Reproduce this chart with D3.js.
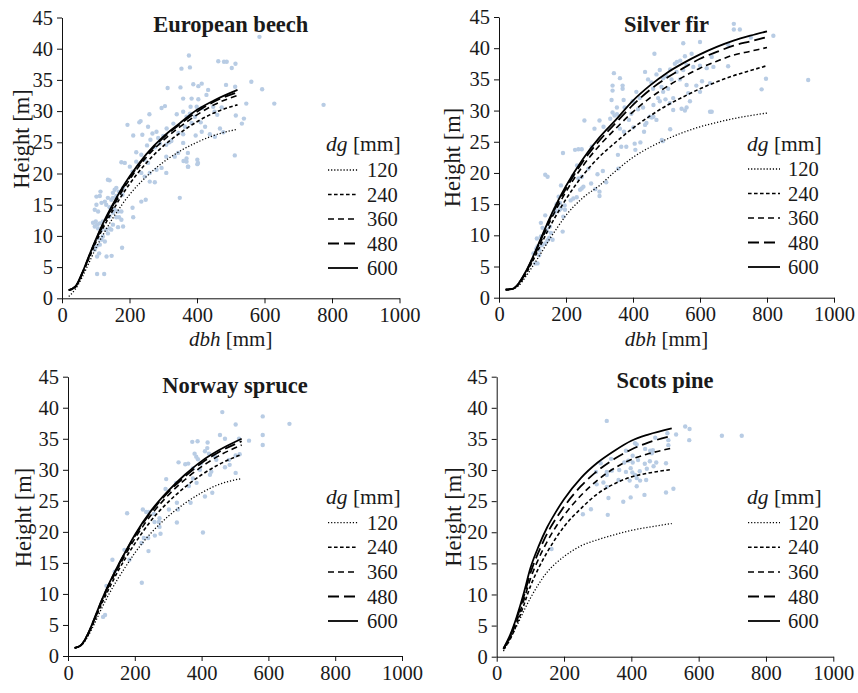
<!DOCTYPE html>
<html>
<head>
<meta charset="utf-8">
<script src="https://cdn.jsdelivr.net/npm/d3@7"></script>
<style>
body { margin: 0; background: #fff; }
text { font-family: "Liberation Serif", "Times New Roman", serif; fill: #1a1a1a; }
</style>
</head>
<body>
<svg id="chart" width="858" height="693"></svg>
<script>
// ---- data ----
var dgLevels = [120, 240, 360, 480, 600];
var xTicks = [0, 200, 400, 600, 800, 1000];
var yTicks = [0, 5, 10, 15, 20, 25, 30, 35, 40, 45];
var titles = ["European beech", "Silver fir", "Norway spruce", "Scots pine"];

// fitted curves, one row per dg level (120 .. 600)
var beechX = [20, 40, 60, 80, 100, 125, 150, 175, 200, 250, 300, 350, 400, 450, 520];
var beechCurves = [
    [0.3, 1.5, 3.4, 5.7, 8.0, 10.5, 12.8, 14.8, 16.6, 19.5, 21.8, 23.6, 25.0, 26.1, 27.1],
    [1.3, 1.8, 3.9, 6.4, 8.9, 11.6, 14.0, 16.3, 18.3, 21.7, 24.4, 26.5, 28.3, 29.7, 31.0],
    [1.3, 1.9, 4.0, 6.6, 9.2, 12.0, 14.5, 16.9, 19.0, 22.6, 25.3, 27.5, 29.4, 31.0, 32.5],
    [1.3, 1.9, 4.0, 6.7, 9.3, 12.2, 14.8, 17.2, 19.3, 22.9, 25.7, 27.9, 29.9, 31.5, 33.0],
    [1.3, 1.9, 4.1, 6.8, 9.4, 12.4, 15.0, 17.4, 19.5, 23.1, 25.9, 28.1, 30.2, 31.7, 33.4]
];
var firX = [20, 40, 60, 80, 100, 125, 150, 175, 200, 250, 300, 350, 400, 450, 500, 550, 600, 650, 700, 750, 800];
var firCurves = [
    [1.3, 1.4, 2.0, 3.4, 5.0, 7.1, 9.3, 11.3, 13.2, 16.0, 18.0, 20.4, 22.5, 24.1, 25.4, 26.5, 27.4, 28.1, 28.7, 29.2, 29.6],
    [1.3, 1.4, 2.2, 3.8, 5.8, 8.5, 11.2, 13.6, 15.8, 19.6, 22.6, 25.0, 27.2, 29.1, 30.8, 32.2, 33.5, 34.6, 35.6, 36.4, 37.2],
    [1.3, 1.4, 2.3, 4.0, 6.1, 9.0, 12.0, 14.6, 17.0, 21.1, 24.4, 27.2, 29.8, 32.0, 33.8, 35.4, 36.8, 37.9, 38.9, 39.5, 40.1],
    [1.3, 1.4, 2.4, 4.1, 6.3, 9.3, 12.4, 15.1, 17.5, 21.8, 25.2, 28.1, 30.9, 33.3, 35.2, 36.8, 38.3, 39.4, 40.4, 41.1, 41.8],
    [1.3, 1.4, 2.4, 4.2, 6.4, 9.5, 12.6, 15.4, 17.9, 22.2, 25.7, 28.6, 31.6, 34.0, 36.0, 37.6, 39.0, 40.2, 41.2, 42.0, 42.7]
];
var spruceX = [20, 40, 60, 80, 100, 125, 150, 175, 200, 250, 300, 350, 400, 450, 520];
var spruceCurves = [
    [1.3, 1.7, 3.2, 5.3, 7.6, 10.2, 12.5, 14.6, 16.6, 19.9, 22.5, 24.6, 26.3, 27.6, 28.6],
    [1.3, 1.8, 3.4, 5.8, 8.3, 11.1, 13.7, 16.0, 18.1, 21.9, 24.8, 27.2, 29.2, 30.8, 32.5],
    [1.3, 1.8, 3.5, 6.0, 8.6, 11.6, 14.2, 16.6, 18.9, 22.8, 25.9, 28.4, 30.5, 32.2, 34.0],
    [1.3, 1.8, 3.6, 6.1, 8.8, 11.8, 14.5, 17.0, 19.3, 23.3, 26.4, 28.9, 31.1, 32.8, 34.6],
    [1.3, 1.8, 3.6, 6.2, 8.9, 11.9, 14.6, 17.1, 19.5, 23.5, 26.6, 29.2, 31.4, 33.1, 35.0]
];
var pineX = [20, 40, 60, 80, 100, 125, 150, 175, 200, 250, 300, 350, 400, 450, 520];
var pineCurves = [
    [0.9, 2.9, 5.0, 7.3, 9.4, 11.7, 13.6, 15.0, 16.1, 17.8, 18.8, 19.6, 20.3, 20.8, 21.4],
    [1.2, 2.8, 5.3, 8.2, 11.3, 14.3, 16.8, 19.0, 20.9, 23.8, 26.2, 27.8, 28.9, 29.5, 30.1],
    [1.3, 3.1, 5.8, 9.0, 12.5, 15.8, 18.5, 20.8, 22.7, 25.9, 28.4, 30.3, 31.7, 32.6, 33.5],
    [1.3, 3.3, 6.2, 9.6, 13.4, 16.9, 19.8, 22.1, 24.1, 27.4, 29.9, 31.8, 33.3, 34.4, 35.5],
    [1.3, 3.5, 6.5, 10.1, 14.2, 17.8, 20.8, 23.2, 25.3, 28.7, 31.2, 33.1, 34.7, 35.7, 36.7]
];

// measured trees [dbh mm, height m]
var beechPts = [
    [104,3.9],[125,3.9],[104,6.7],[110,7.2],[97,7.8],[132,6.7],[147,6.8],[178,8.1],[102,8.3],[112,8.6],
    [127,9.1],[117,9.4],[107,9.6],[121,9.9],[136,10.4],[117,11.0],[131,11.0],[146,11.0],[107,11.2],[141,11.2],
    [97,11.5],[166,11.4],[181,11.5],[104,11.8],[151,11.8],[112,12.0],[92,12.1],[100,12.3],[121,12.3],[176,12.6],
    [141,13.1],[169,13.0],[161,13.0],[211,13.0],[151,13.7],[166,13.9],[176,13.9],[107,13.9],[97,14.2],[156,14.2],
    [209,14.5],[141,14.6],[131,15.0],[102,15.0],[117,15.3],[127,15.5],[235,15.5],[146,15.8],[248,15.8],[136,16.1],
    [151,16.1],[349,16.1],[102,16.3],[112,16.4],[161,16.4],[179,16.6],[151,16.9],[114,17.1],[169,17.1],[156,17.4],
    [161,17.7],[181,17.7],[260,18.7],[275,18.6],[141,18.9],[136,19.0],[245,19.5],[235,20.1],[260,20.1],[309,20.1],
    [209,20.3],[280,20.6],[295,20.9],[201,21.1],[373,21.1],[186,21.7],[255,21.7],[403,21.7],[176,21.8],[220,21.9],
    [369,21.9],[245,22.2],[309,22.7],[334,22.7],[235,23.0],[344,23.3],[220,23.4],[359,24.9],[309,24.6],[262,25.4],
    [238,26.2],[280,26.7],[194,27.8],[211,26.1],[229,28.2],[233,28.4],[255,27.5],[259,29.5],[268,26.4],[285,25.7],
    [295,30.5],[305,30.8],[313,33.7],[324,25.2],[351,33.8],[354,36.8],[379,37.0],[376,38.9],[389,34.3],[404,34.0],
    [414,34.4],[433,33.4],[428,32.6],[463,38.0],[480,37.9],[488,37.9],[503,36.9],[514,37.6],[486,34.2],[513,33.9],
    [546,31.2],[539,28.8],[533,28.0],[512,22.9],[561,34.7],[593,33.5],[585,41.9],[629,31.2],[775,31.0],[359,32.0],
    [384,32.0],[404,31.9],[381,30.7],[399,30.7],[414,30.5],[359,29.9],[379,29.6],[448,30.7],[473,30.6],[452,29.9],
    [460,29.4],[515,29.3],[369,29.1],[394,29.1],[411,28.2],[424,27.5],[384,28.1],[364,27.5],[359,26.3],[438,26.3],
    [453,25.9],[478,26.6],[468,27.2],[414,26.7],[396,26.1],[369,22.4],[374,21.1],[360,22.0],[401,22.2],[401,21.5],
    [373,23.3],[330,28.0],[340,29.5],[300,26.0],[318,25.0],[290,24.8],[275,24.2],[252,24.5],[345,26.5],[310,27.2]
];
var firPts = [
    [108,5.5],[115,5.5],[103,7.1],[111,7.8],[115,8.2],[121,7.6],[128,8.4],[120,6.8],[113,9.5],[125,9.8],
    [138,8.7],[145,9.2],[150,9.6],[160,9.3],[142,10.6],[155,10.4],[142,10.9],[152,11.4],[130,11.2],[190,10.6],
    [138,13.2],[125,12.0],[162,13.5],[167,14.2],[175,14.8],[180,14.0],[172,15.0],[168,13.8],[182,15.2],[192,13.0],
    [197,14.1],[185,14.3],[196,14.8],[178,16.2],[214,15.6],[222,15.9],[232,16.1],[242,17.3],[247,17.5],[252,17.8],
    [185,18.0],[220,19.5],[237,19.1],[247,19.4],[138,19.7],[145,19.4],[233,21.2],[191,23.2],[227,23.7],[237,23.8],
    [247,23.8],[300,16.3],[300,17.0],[287,17.4],[275,18.3],[294,19.8],[310,20.3],[320,18.5],[267,20.7],[277,24.2],
    [255,28.4],[300,28.4],[285,27.1],[312,27.4],[332,28.7],[345,29.2],[352,29.4],[355,22.9],[356,20.7],[365,24.2],
    [380,24.2],[405,24.7],[422,24.9],[407,23.7],[361,27.1],[373,26.6],[401,27.3],[433,26.6],[436,27.7],[388,28.5],
    [395,29.5],[339,29.7],[352,30.5],[375,30.5],[336,31.7],[372,31.7],[399,31.5],[415,30.2],[430,30.5],[420,32.0],
    [410,33.0],[339,33.2],[339,34.0],[369,33.5],[369,34.0],[361,35.2],[343,36.0],[436,36.2],[464,39.1],[440,28.0],
    [456,28.9],[450,29.0],[470,28.5],[461,29.0],[461,30.9],[480,31.5],[475,32.0],[486,25.3],[489,25.1],[511,27.0],
    [520,30.1],[545,30.3],[510,31.2],[497,31.8],[520,32.0],[490,33.0],[460,33.5],[485,33.8],[505,33.5],[455,34.5],
    [445,35.0],[490,35.2],[500,35.5],[515,35.0],[540,35.0],[470,35.8],[480,36.5],[511,36.6],[530,36.2],[550,36.5],
    [525,37.5],[531,37.8],[541,38.0],[555,38.7],[560,37.3],[575,39.1],[580,37.0],[600,37.2],[620,36.8],[640,37.0],
    [635,38.6],[684,37.1],[550,40.8],[600,41.0],[684,40.6],[701,43.0],[701,43.9],[719,43.0],[752,41.7],[819,42.0],
    [560,34.1],[565,32.8],[570,31.5],[560,30.5],[555,30.0],[600,33.0],[589,34.0],[606,34.7],[630,34.4],[630,29.8],
    [635,29.8],[784,33.4],[797,35.1],[923,34.9]
];
var sprucePts = [
    [105,6.3],[111,6.6],[115,11.3],[221,11.8],[140,13.6],[133,15.5],[184,15.5],[241,16.9],[169,17.1],[220,18.2],
    [227,19.0],[240,19.0],[260,19.4],[277,19.7],[404,19.9],[274,20.8],[259,21.6],[272,21.6],[326,21.5],[274,22.2],
    [257,22.9],[177,23.0],[234,23.2],[242,23.2],[224,23.6],[302,23.6],[329,23.6],[326,24.7],[367,24.7],[410,25.7],
    [432,26.3],[292,26.9],[362,27.4],[385,27.9],[324,27.9],[294,28.5],[374,28.6],[425,29.2],[502,29.5],[429,29.7],
    [374,30.2],[395,30.0],[470,30.4],[484,30.8],[351,30.9],[398,31.0],[360,31.0],[331,31.2],[482,31.6],[444,31.6],
    [389,31.7],[384,32.1],[440,32.2],[502,32.3],[514,32.5],[379,32.6],[422,32.6],[410,33.0],[417,33.5],[583,34.0],
    [418,34.4],[372,34.5],[388,34.6],[542,34.7],[470,35.0],[512,35.0],[455,35.6],[583,35.6],[502,37.3],[663,37.4],
    [583,38.6],[462,39.3]
];
var pinePts = [
    [163,17.3],[256,22.9],[280,23.7],[330,22.8],[376,24.9],[332,25.5],[398,25.6],[439,26.0],[503,26.4],[525,27.0],
    [297,27.7],[327,27.3],[416,27.4],[317,28.0],[362,28.4],[395,28.3],[426,28.3],[444,28.4],[416,28.7],[327,29.2],
    [411,29.2],[403,29.6],[295,29.7],[327,29.7],[342,29.9],[364,30.0],[384,29.7],[398,30.3],[425,29.8],[446,30.2],
    [466,30.6],[309,31.1],[379,31.2],[391,31.5],[404,31.2],[420,31.6],[440,31.0],[455,31.4],[474,31.2],[503,31.1],
    [340,31.8],[404,32.3],[461,32.7],[384,33.1],[456,33.1],[464,33.2],[441,33.4],[416,34.1],[411,34.3],[510,34.0],
    [510,34.8],[572,34.8],[471,35.2],[669,35.5],[728,35.5],[533,35.7],[507,35.9],[573,36.6],[560,37.0],[327,37.9]
];

// ---- layout ----
var panels = [
    {x0: 62, x1: 399.5, y0: 298.3, y45: 17.5, titleY: 31.7, ylabX: 29, ylabY: 139, xlabY: 346,
     headX: 326, headY: 151, lineX: 328, lineW: 30, numX: 367, rows: [170, 194.5, 219, 243.5, 268]},
    {x0: 499, x1: 834, y0: 297.7, y45: 17, titleY: 32, ylabX: 460, ylabY: 157.5, xlabY: 346,
     headX: 747, headY: 151, lineX: 748, lineW: 32, numX: 788, rows: [169, 193.5, 218, 242.5, 267]},
    {x0: 68, x1: 402, y0: 656, y45: 376.7, titleY: 392.7, ylabX: 31, ylabY: 517.5, xlabY: null,
     headX: 326, headY: 504, lineX: 328, lineW: 30, numX: 367, rows: [522.7, 547.3, 572, 596.5, 621]},
    {x0: 496.7, x1: 833.3, y0: 656.7, y45: 376.7, titleY: 388.3, ylabX: 460.5, ylabY: 517, xlabY: null,
     headX: 747, headY: 504, lineX: 748, lineW: 32, numX: 788, rows: [522.7, 547.3, 572, 596.5, 621]}
];
var dashes = ["1.2,1.9", "3.6,2.4", "6,4", "11,5", null];
var widths = [1.3, 1.6, 1.6, 1.8, 1.8];
var fontFam = '"Liberation Serif", "Times New Roman", serif';

var svg = d3.select("#chart");

function drawPanel(i, xs, curves, pts) {
    var p = panels[i];
    var g = svg.append("g");
    var xScale = d3.scaleLinear().domain([0, 1000]).range([p.x0, p.x1]);
    var yScale = d3.scaleLinear().domain([0, 45]).range([p.y0, p.y45]);

    // axes
    var xa = g.append("g").attr("transform", "translate(0," + p.y0 + ")")
        .call(d3.axisBottom(xScale).tickValues(xTicks).tickFormat(d3.format("d"))
            .tickSize(5).tickSizeOuter(0).tickPadding(4));
    var ya = g.append("g").attr("transform", "translate(" + p.x0 + ",0)")
        .call(d3.axisLeft(yScale).tickValues(yTicks).tickSize(5).tickSizeOuter(0).tickPadding(4));
    [xa, ya].forEach(function(a) {
        a.attr("font-family", fontFam).attr("font-size", 20.5);
        a.selectAll("path, line").attr("stroke", "#111").attr("stroke-width", 1);
        a.selectAll("text").attr("fill", "#1a1a1a");
    });

    // scatter
    g.append("g").selectAll("circle").data(pts).enter().append("circle")
        .attr("cx", function(d) { return xScale(d[0]); })
        .attr("cy", function(d) { return yScale(d[1]); })
        .attr("r", 2.2)
        .style("fill", "#b8cce4");

    // model curves
    var line = d3.line()
        .x(function(d) { return xScale(d[0]); })
        .y(function(d) { return yScale(d[1]); })
        .curve(d3.curveMonotoneX);
    curves.forEach(function(c, k) {
        g.append("path")
            .datum(xs.map(function(xv, j) { return [xv, c[j]]; }))
            .attr("d", line)
            .attr("fill", "none")
            .attr("stroke", "#000")
            .attr("stroke-width", widths[k])
            .attr("stroke-dasharray", dashes[k]);
    });

    // title
    g.append("text").attr("x", (p.x0 + p.x1) / 2).attr("y", p.titleY)
        .attr("text-anchor", "middle").attr("font-weight", "bold").attr("font-size", 22.5)
        .text(titles[i]);

    // axis labels
    g.append("text")
        .attr("transform", "translate(" + p.ylabX + "," + p.ylabY + ") rotate(-90)")
        .attr("text-anchor", "middle").attr("font-size", 22.5)
        .text("Height [m]");
    if (p.xlabY) {
        var xl = g.append("text").attr("x", (p.x0 + p.x1) / 2).attr("y", p.xlabY)
            .attr("text-anchor", "middle").attr("font-size", 21);
        xl.append("tspan").attr("font-style", "italic").text("dbh");
        xl.append("tspan").text(" [mm]");
    }

    // legend
    var hd = g.append("text").attr("x", p.headX).attr("y", p.headY).attr("font-size", 21.5);
    hd.append("tspan").attr("font-style", "italic").text("dg");
    hd.append("tspan").text(" [mm]");
    dgLevels.forEach(function(dg, k) {
        g.append("line")
            .attr("x1", p.lineX).attr("x2", p.lineX + p.lineW)
            .attr("y1", p.rows[k]).attr("y2", p.rows[k])
            .attr("stroke", "#000").attr("stroke-width", widths[k])
            .attr("stroke-dasharray", dashes[k]);
        g.append("text").attr("x", p.numX).attr("y", p.rows[k]).attr("dy", "0.35em")
            .attr("font-size", 20.5).text(dg);
    });
}

drawPanel(0, beechX, beechCurves, beechPts);
drawPanel(1, firX, firCurves, firPts);
drawPanel(2, spruceX, spruceCurves, sprucePts);
drawPanel(3, pineX, pineCurves, pinePts);
</script>
</body>
</html>
